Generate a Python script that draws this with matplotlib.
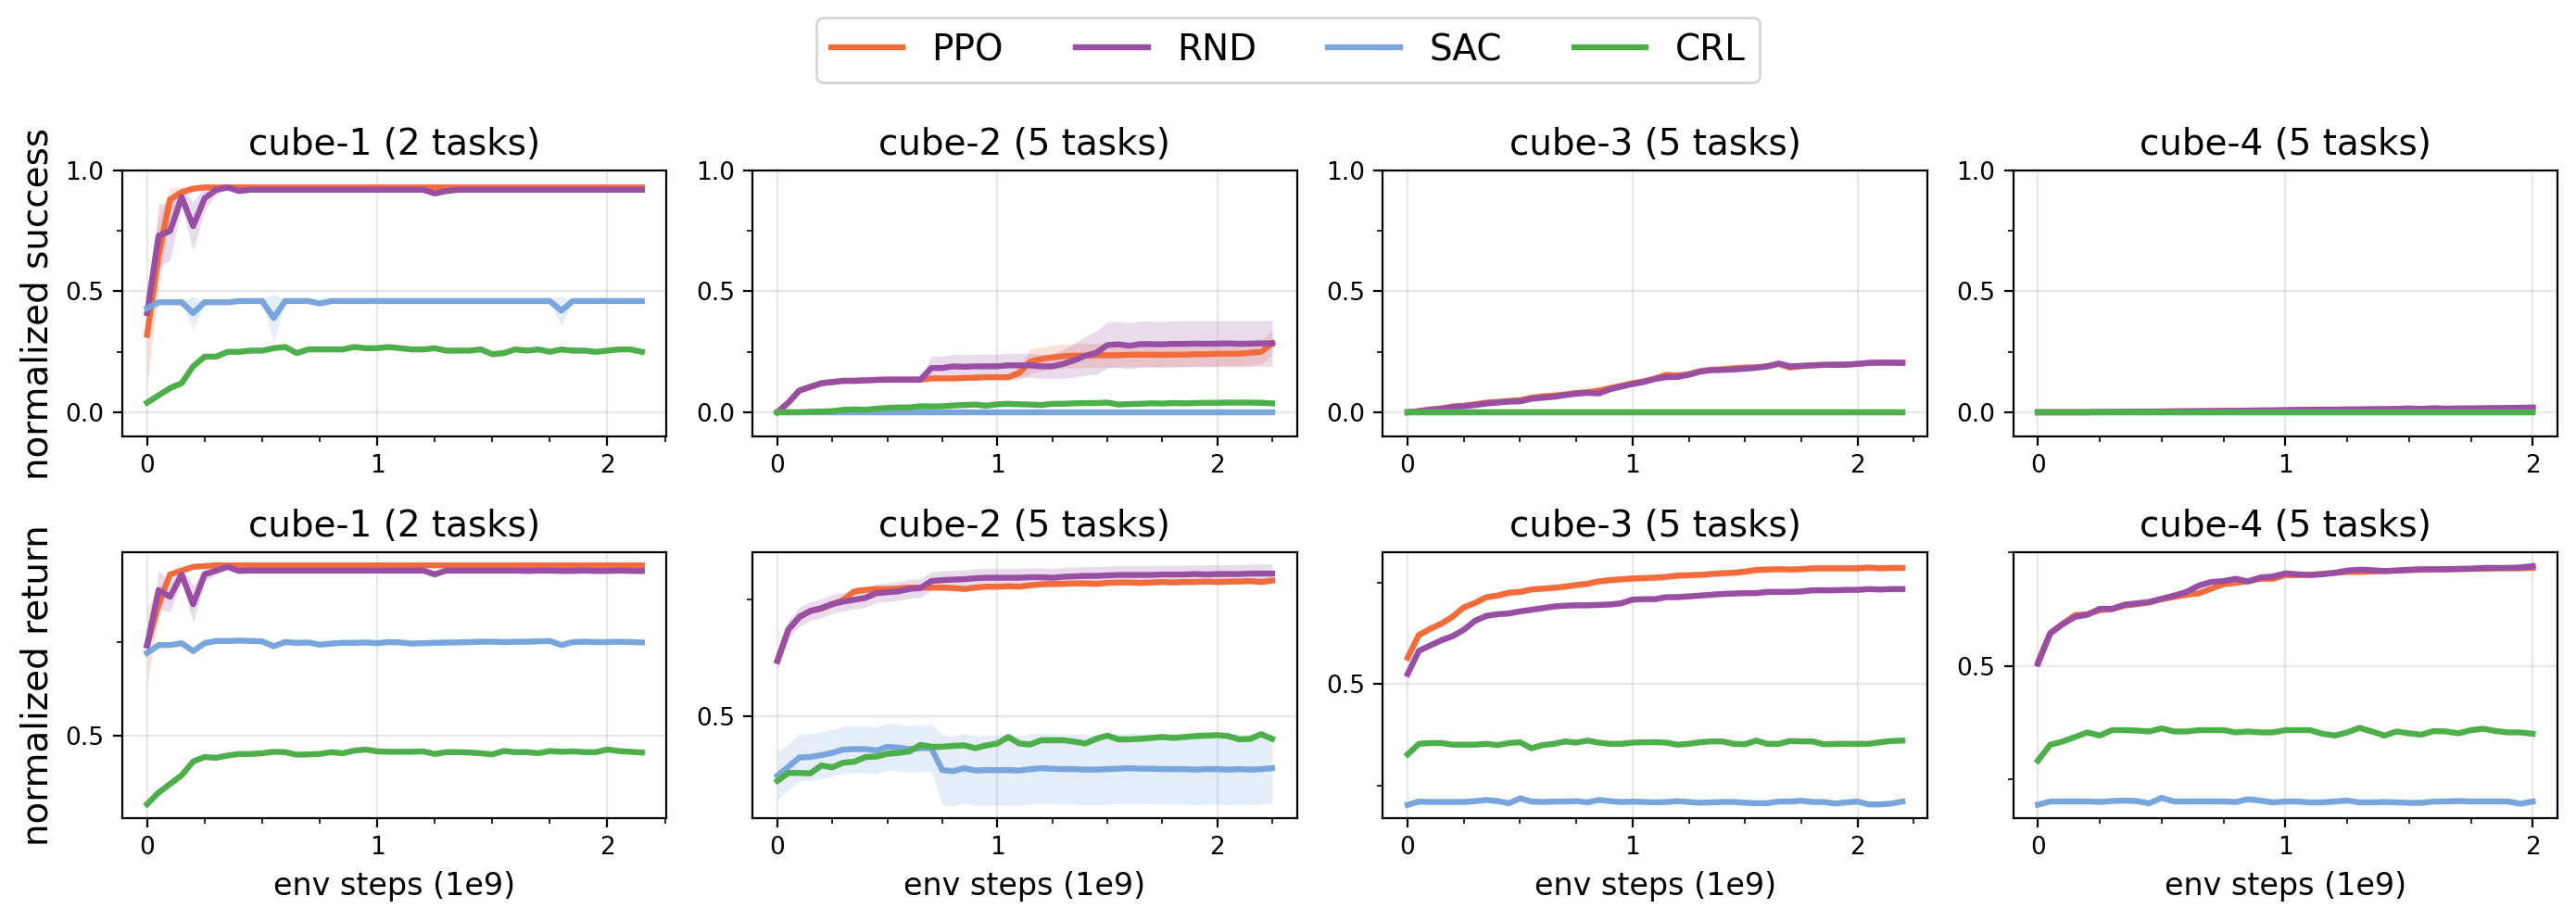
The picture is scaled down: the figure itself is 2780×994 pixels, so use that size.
import numpy as np
import matplotlib
matplotlib.use('Agg')
import matplotlib.pyplot as plt
from matplotlib.ticker import MultipleLocator

# evaluation interval along the x axis (1e9 env steps)
EVAL_INTERVAL = 0.05

methods = ['PPO', 'RND', 'SAC', 'CRL']
colors = {'PPO': '#f26b3a', 'RND': '#984ea3', 'SAC': '#78a6dc', 'CRL': '#4daf4a'}
envs = ['cube-1 (2 tasks)', 'cube-2 (5 tasks)', 'cube-3 (5 tasks)', 'cube-4 (5 tasks)']

# ---------------- cube-1 ----------------
ppo_s1 = [0.32, 0.65, 0.88, 0.91, 0.925, 0.93, 0.93, 0.93, 0.93, 0.93,
          0.93, 0.93, 0.93, 0.93, 0.93, 0.93, 0.93, 0.93, 0.93, 0.93,
          0.93, 0.93, 0.93, 0.93, 0.93, 0.93, 0.93, 0.93, 0.93, 0.93,
          0.93, 0.93, 0.93, 0.93, 0.93, 0.93, 0.93, 0.93, 0.93, 0.93,
          0.93, 0.93, 0.93, 0.93]
ppo_s1_std = [0.2, 0.15, 0.05, 0.02, 0.01, 0.005, 0.004, 0.003, 0.003, 0.003,
              0.003, 0.003, 0.003, 0.003, 0.003, 0.003, 0.003, 0.003, 0.003, 0.003,
              0.003, 0.003, 0.003, 0.003, 0.003, 0.003, 0.003, 0.003, 0.003, 0.003,
              0.003, 0.003, 0.003, 0.003, 0.003, 0.003, 0.003, 0.003, 0.003, 0.003,
              0.003, 0.003, 0.003, 0.003]
rnd_s1 = [0.41, 0.73, 0.75, 0.89, 0.77, 0.885, 0.92, 0.93, 0.915, 0.92,
          0.92, 0.92, 0.92, 0.92, 0.92, 0.92, 0.92, 0.92, 0.92, 0.92,
          0.92, 0.92, 0.92, 0.92, 0.92, 0.905, 0.915, 0.92, 0.92, 0.92,
          0.92, 0.92, 0.92, 0.92, 0.92, 0.92, 0.92, 0.92, 0.92, 0.92,
          0.92, 0.92, 0.92, 0.92]
rnd_s1_std = [0.02, 0.13, 0.12, 0.04, 0.1, 0.05, 0.02, 0.01, 0.005, 0.004,
              0.004, 0.004, 0.004, 0.004, 0.004, 0.004, 0.004, 0.004, 0.004, 0.004,
              0.004, 0.004, 0.004, 0.004, 0.004, 0.012, 0.004, 0.004, 0.004, 0.004,
              0.004, 0.004, 0.004, 0.004, 0.004, 0.004, 0.004, 0.004, 0.004, 0.004,
              0.004, 0.004, 0.004, 0.004]
sac_s1 = [0.43, 0.455, 0.455, 0.455, 0.41, 0.455, 0.455, 0.455, 0.46, 0.46,
          0.46, 0.39, 0.46, 0.46, 0.46, 0.45, 0.46, 0.46, 0.46, 0.46,
          0.46, 0.46, 0.46, 0.46, 0.46, 0.46, 0.46, 0.46, 0.46, 0.46,
          0.46, 0.46, 0.46, 0.46, 0.46, 0.46, 0.42, 0.46, 0.46, 0.46,
          0.46, 0.46, 0.46, 0.46]
sac_s1_std = [0.01, 0.004, 0.004, 0.004, 0.07, 0.004, 0.004, 0.004, 0.004, 0.004,
              0.004, 0.1, 0.004, 0.004, 0.004, 0.01, 0.004, 0.004, 0.004, 0.004,
              0.004, 0.004, 0.004, 0.004, 0.004, 0.004, 0.004, 0.004, 0.004, 0.004,
              0.004, 0.004, 0.004, 0.004, 0.004, 0.004, 0.06, 0.004, 0.004, 0.004,
              0.004, 0.004, 0.004, 0.004]
crl_s1 = [0.04, 0.07, 0.10, 0.12, 0.19, 0.23, 0.23, 0.25, 0.25, 0.255,
          0.255, 0.265, 0.27, 0.245, 0.26, 0.26, 0.26, 0.26, 0.27, 0.265,
          0.265, 0.27, 0.265, 0.26, 0.26, 0.265, 0.255, 0.255, 0.255, 0.26,
          0.24, 0.245, 0.26, 0.255, 0.26, 0.25, 0.26, 0.255, 0.255, 0.25,
          0.255, 0.26, 0.26, 0.25]

ppo_r1 = [0.74, 0.85, 0.93, 0.94, 0.95, 0.952, 0.954, 0.954, 0.954, 0.954,
          0.954, 0.954, 0.954, 0.954, 0.954, 0.954, 0.954, 0.954, 0.954, 0.954,
          0.954, 0.954, 0.954, 0.954, 0.954, 0.954, 0.954, 0.954, 0.954, 0.954,
          0.954, 0.954, 0.954, 0.954, 0.954, 0.954, 0.954, 0.954, 0.954, 0.954,
          0.954, 0.954, 0.954, 0.954]
ppo_r1_std = [0.1, 0.04, 0.01, 0.005, 0.004, 0.003, 0.003, 0.003, 0.003, 0.003,
              0.003, 0.003, 0.003, 0.003, 0.003, 0.003, 0.003, 0.003, 0.003, 0.003,
              0.003, 0.003, 0.003, 0.003, 0.003, 0.003, 0.003, 0.003, 0.003, 0.003,
              0.003, 0.003, 0.003, 0.003, 0.003, 0.003, 0.003, 0.003, 0.003, 0.003,
              0.003, 0.003, 0.003, 0.003]
rnd_r1 = [0.74, 0.888, 0.87, 0.93, 0.85, 0.93, 0.94, 0.95, 0.939, 0.94,
          0.94, 0.94, 0.94, 0.94, 0.94, 0.94, 0.94, 0.94, 0.94, 0.94,
          0.94, 0.94, 0.94, 0.94, 0.94, 0.93, 0.94, 0.94, 0.94, 0.94,
          0.94, 0.94, 0.94, 0.939, 0.94, 0.94, 0.939, 0.939, 0.94, 0.939,
          0.939, 0.94, 0.939, 0.939]
rnd_r1_std = [0.02, 0.05, 0.04, 0.02, 0.05, 0.02, 0.01, 0.005, 0.004, 0.004,
              0.004, 0.004, 0.004, 0.004, 0.004, 0.004, 0.004, 0.004, 0.004, 0.004,
              0.004, 0.004, 0.004, 0.004, 0.004, 0.008, 0.004, 0.004, 0.004, 0.004,
              0.004, 0.004, 0.004, 0.004, 0.004, 0.004, 0.004, 0.004, 0.004, 0.004,
              0.004, 0.004, 0.004, 0.004]
sac_r1 = [0.72, 0.741, 0.741, 0.746, 0.725, 0.746, 0.752, 0.752, 0.753, 0.752,
          0.751, 0.738, 0.749, 0.747, 0.748, 0.742, 0.745, 0.747, 0.747, 0.748,
          0.746, 0.749, 0.748, 0.745, 0.746, 0.747, 0.748, 0.748, 0.749, 0.75,
          0.75, 0.749, 0.75, 0.75, 0.751, 0.752, 0.741, 0.749, 0.75, 0.749,
          0.749, 0.75, 0.749, 0.748]
crl_r1 = [0.316, 0.347, 0.37, 0.393, 0.43, 0.442, 0.44, 0.446, 0.45, 0.45,
          0.452, 0.456, 0.455, 0.448, 0.449, 0.45, 0.455, 0.452, 0.459, 0.462,
          0.457, 0.456, 0.456, 0.456, 0.457, 0.45, 0.455, 0.455, 0.454, 0.452,
          0.449, 0.458, 0.455, 0.455, 0.452, 0.458, 0.456, 0.457, 0.455, 0.455,
          0.462, 0.458, 0.456, 0.454]

# ---------------- cube-2 ----------------
ppo_s2 = [0.0, 0.04, 0.09, 0.105, 0.12, 0.125, 0.13, 0.13, 0.132, 0.134,
          0.135, 0.135, 0.135, 0.135, 0.14, 0.14, 0.14, 0.142, 0.143, 0.145,
          0.145, 0.145, 0.163, 0.21, 0.22, 0.227, 0.232, 0.234, 0.234, 0.236,
          0.236, 0.236, 0.238, 0.238, 0.238, 0.237, 0.238, 0.238, 0.24, 0.24,
          0.242, 0.242, 0.242, 0.246, 0.25, 0.285]
ppo_s2_std = [0.002, 0.004, 0.005, 0.005, 0.005, 0.005, 0.005, 0.005, 0.005, 0.005,
              0.005, 0.005, 0.005, 0.005, 0.01, 0.01, 0.01, 0.01, 0.01, 0.01,
              0.01, 0.01, 0.03, 0.05, 0.05, 0.05, 0.05, 0.05, 0.05, 0.05,
              0.05, 0.05, 0.05, 0.05, 0.05, 0.05, 0.05, 0.05, 0.05, 0.05,
              0.05, 0.05, 0.05, 0.05, 0.05, 0.05]
rnd_s2 = [0.0, 0.04, 0.09, 0.105, 0.12, 0.125, 0.13, 0.13, 0.132, 0.134,
          0.135, 0.135, 0.135, 0.135, 0.183, 0.183, 0.19, 0.188, 0.19, 0.19,
          0.19, 0.194, 0.194, 0.194, 0.19, 0.19, 0.2, 0.215, 0.234, 0.246,
          0.278, 0.281, 0.275, 0.282, 0.282, 0.281, 0.283, 0.283, 0.284, 0.283,
          0.284, 0.285, 0.283, 0.284, 0.285, 0.285]
rnd_s2_std = [0.002, 0.004, 0.005, 0.005, 0.005, 0.005, 0.005, 0.005, 0.005, 0.005,
              0.005, 0.005, 0.005, 0.005, 0.05, 0.05, 0.05, 0.05, 0.05, 0.05,
              0.05, 0.05, 0.05, 0.05, 0.05, 0.05, 0.06, 0.07, 0.08, 0.09,
              0.095, 0.095, 0.095, 0.095, 0.095, 0.095, 0.095, 0.095, 0.095, 0.095,
              0.095, 0.095, 0.095, 0.095, 0.095, 0.095]
sac_s2 = [0.0, 0.0, 0.0, 0.0, 0.0, 0.0, 0.0, 0.0, 0.0, 0.0,
          0.0, 0.0, 0.0, 0.0, 0.0, 0.0, 0.0, 0.0, 0.0, 0.0,
          0.0, 0.0, 0.0, 0.0, 0.0, 0.0, 0.0, 0.0, 0.0, 0.0,
          0.0, 0.0, 0.0, 0.0, 0.0, 0.0, 0.0, 0.0, 0.0, 0.0,
          0.0, 0.0, 0.0, 0.0, 0.0, 0.0]
crl_s2 = [0.0, 0.0, 0.0, 0.002, 0.003, 0.005, 0.01, 0.012, 0.01, 0.015,
          0.018, 0.02, 0.02, 0.025, 0.024, 0.025, 0.028, 0.03, 0.032, 0.027,
          0.033, 0.035, 0.033, 0.032, 0.03, 0.035, 0.035, 0.037, 0.038, 0.038,
          0.04, 0.032, 0.034, 0.035, 0.037, 0.036, 0.038, 0.037, 0.038, 0.039,
          0.039, 0.04, 0.04, 0.04, 0.039, 0.037]

ppo_r2 = [0.618, 0.685, 0.712, 0.725, 0.73, 0.739, 0.749, 0.767, 0.77, 0.772,
          0.772, 0.773, 0.775, 0.775, 0.775, 0.775, 0.774, 0.772, 0.775, 0.777,
          0.777, 0.778, 0.777, 0.78, 0.782, 0.783, 0.783, 0.784, 0.784, 0.783,
          0.785, 0.786, 0.786, 0.785, 0.786, 0.787, 0.786, 0.787, 0.787, 0.788,
          0.787, 0.788, 0.788, 0.789, 0.787, 0.79]
rnd_r2 = [0.618, 0.685, 0.712, 0.725, 0.731, 0.74, 0.745, 0.749, 0.753, 0.763,
          0.765, 0.767, 0.772, 0.774, 0.789, 0.791, 0.792, 0.793, 0.795, 0.796,
          0.796, 0.796, 0.796, 0.797, 0.797, 0.796, 0.798, 0.799, 0.8, 0.8,
          0.801, 0.802, 0.802, 0.802, 0.802, 0.803, 0.803, 0.803, 0.804, 0.803,
          0.804, 0.804, 0.804, 0.805, 0.805, 0.805]
sac_r2 = [0.372, 0.391, 0.411, 0.412, 0.416, 0.421, 0.428, 0.429, 0.429, 0.426,
          0.434, 0.432, 0.429, 0.431, 0.431, 0.384, 0.382, 0.388, 0.383, 0.384,
          0.384, 0.384, 0.383, 0.386, 0.388, 0.387, 0.386, 0.386, 0.385, 0.385,
          0.386, 0.387, 0.388, 0.387, 0.387, 0.386, 0.386, 0.386, 0.385, 0.386,
          0.386, 0.385, 0.386, 0.385, 0.386, 0.388]
sac_r2_std = [0.05, 0.05, 0.05, 0.05, 0.05, 0.05, 0.05, 0.05, 0.05, 0.05,
              0.05, 0.05, 0.05, 0.05, 0.05, 0.075, 0.075, 0.075, 0.075, 0.075,
              0.075, 0.075, 0.075, 0.075, 0.075, 0.075, 0.075, 0.075, 0.075, 0.075,
              0.075, 0.075, 0.075, 0.075, 0.075, 0.075, 0.075, 0.075, 0.075, 0.075,
              0.075, 0.075, 0.075, 0.075, 0.075, 0.075]
crl_r2 = [0.361, 0.378, 0.378, 0.377, 0.394, 0.39, 0.4, 0.402, 0.412, 0.413,
          0.419, 0.421, 0.424, 0.438, 0.434, 0.434, 0.436, 0.437, 0.431, 0.437,
          0.441, 0.455, 0.441, 0.439, 0.448, 0.448, 0.448, 0.445, 0.441, 0.451,
          0.458, 0.45, 0.45, 0.451, 0.453, 0.455, 0.453, 0.455, 0.457, 0.458,
          0.459, 0.457, 0.45, 0.451, 0.461, 0.451]

# ---------------- cube-3 ----------------
ppo_s3 = [0.0, 0.005, 0.012, 0.016, 0.024, 0.027, 0.033, 0.04, 0.043, 0.047,
          0.05, 0.06, 0.066, 0.069, 0.074, 0.08, 0.083, 0.09, 0.1, 0.11,
          0.12, 0.128, 0.14, 0.155, 0.152, 0.158, 0.17, 0.176, 0.178, 0.182,
          0.185, 0.186, 0.19, 0.2, 0.185, 0.19, 0.194, 0.196, 0.196, 0.197,
          0.2, 0.204, 0.206, 0.206, 0.205]
rnd_s3 = [0.0, 0.004, 0.01, 0.014, 0.022, 0.025, 0.03, 0.036, 0.04, 0.044,
          0.045, 0.056, 0.06, 0.064, 0.071, 0.077, 0.08, 0.078, 0.095, 0.106,
          0.117, 0.125, 0.138, 0.145, 0.146, 0.155, 0.168, 0.174, 0.175, 0.177,
          0.18, 0.184, 0.19, 0.202, 0.19, 0.192, 0.194, 0.196, 0.197, 0.197,
          0.2, 0.204, 0.205, 0.205, 0.204]
sac_s3 = [0.0, 0.0, 0.0, 0.0, 0.0, 0.0, 0.0, 0.0, 0.0, 0.0,
          0.0, 0.0, 0.0, 0.0, 0.0, 0.0, 0.0, 0.0, 0.0, 0.0,
          0.0, 0.0, 0.0, 0.0, 0.0, 0.0, 0.0, 0.0, 0.0, 0.0,
          0.0, 0.0, 0.0, 0.0, 0.0, 0.0, 0.0, 0.0, 0.0, 0.0,
          0.0, 0.0, 0.0, 0.0, 0.0]
crl_s3 = [0.0, 0.0, 0.0, 0.0, 0.0, 0.0, 0.0, 0.0, 0.0, 0.0,
          0.0, 0.0, 0.0, 0.0, 0.0, 0.0, 0.0, 0.0, 0.0, 0.0,
          0.0, 0.0, 0.0, 0.0, 0.0, 0.0, 0.0, 0.0, 0.0, 0.0,
          0.0, 0.0, 0.0, 0.0, 0.0, 0.0, 0.0, 0.0, 0.0, 0.0,
          0.0, 0.0, 0.0, 0.0, 0.0]

ppo_r3 = [0.565, 0.621, 0.636, 0.649, 0.666, 0.689, 0.70, 0.714, 0.718, 0.725,
          0.727, 0.733, 0.735, 0.737, 0.74, 0.744, 0.747, 0.753, 0.756, 0.758,
          0.76, 0.761, 0.762, 0.764, 0.767, 0.768, 0.769, 0.771, 0.773, 0.774,
          0.777, 0.781, 0.782, 0.783, 0.782, 0.783, 0.785, 0.785, 0.785, 0.785,
          0.785, 0.787, 0.785, 0.786, 0.786]
rnd_r3 = [0.525, 0.582, 0.595, 0.608, 0.618, 0.634, 0.656, 0.668, 0.672, 0.674,
          0.679, 0.683, 0.687, 0.691, 0.693, 0.694, 0.694, 0.695, 0.696, 0.699,
          0.708, 0.709, 0.709, 0.714, 0.714, 0.716, 0.718, 0.72, 0.722, 0.723,
          0.724, 0.724, 0.727, 0.727, 0.727, 0.728, 0.731, 0.731, 0.731, 0.732,
          0.732, 0.734, 0.733, 0.734, 0.734]
sac_r3 = [0.203, 0.211, 0.21, 0.21, 0.21, 0.21, 0.212, 0.215, 0.212, 0.207,
          0.219, 0.211, 0.21, 0.211, 0.211, 0.212, 0.209, 0.215, 0.212, 0.21,
          0.211, 0.21, 0.209, 0.21, 0.212, 0.21, 0.208, 0.209, 0.21, 0.21,
          0.208, 0.207, 0.207, 0.211, 0.211, 0.213, 0.21, 0.21, 0.206, 0.209,
          0.211, 0.204, 0.204, 0.206, 0.211]
crl_r3 = [0.327, 0.353, 0.355, 0.355, 0.351, 0.351, 0.351, 0.353, 0.35, 0.355,
          0.357, 0.342, 0.35, 0.353, 0.359, 0.356, 0.361, 0.356, 0.353, 0.353,
          0.356, 0.357, 0.357, 0.356, 0.351, 0.353, 0.357, 0.359, 0.359, 0.353,
          0.352, 0.361, 0.353, 0.353, 0.36, 0.359, 0.359, 0.352, 0.353, 0.353,
          0.353, 0.353, 0.357, 0.36, 0.361]

# ---------------- cube-4 ----------------
ppo_s4 = [0.0, 0.0, 0.0, 0.0, 0.0, 0.001, 0.001, 0.002, 0.002, 0.003,
          0.003, 0.004, 0.004, 0.004, 0.005, 0.005, 0.006, 0.006, 0.007, 0.007,
          0.008, 0.009, 0.009, 0.01, 0.01, 0.011, 0.011, 0.012, 0.012, 0.013,
          0.013, 0.013, 0.014, 0.014, 0.015, 0.015, 0.015, 0.016, 0.016, 0.017,
          0.017]
rnd_s4 = [0.0, 0.0, 0.0, 0.0, 0.0, 0.001, 0.001, 0.002, 0.002, 0.003,
          0.003, 0.004, 0.004, 0.005, 0.005, 0.006, 0.006, 0.007, 0.008, 0.008,
          0.009, 0.01, 0.01, 0.011, 0.011, 0.012, 0.012, 0.013, 0.013, 0.014,
          0.016, 0.014, 0.017, 0.015, 0.016, 0.016, 0.017, 0.017, 0.018, 0.019,
          0.02]
sac_s4 = [0.0, 0.0, 0.0, 0.0, 0.0, 0.0, 0.0, 0.0, 0.0, 0.0,
          0.0, 0.0, 0.0, 0.0, 0.0, 0.0, 0.0, 0.0, 0.0, 0.0,
          0.0, 0.0, 0.0, 0.0, 0.0, 0.0, 0.0, 0.0, 0.0, 0.0,
          0.0, 0.0, 0.0, 0.0, 0.0, 0.0, 0.0, 0.0, 0.0, 0.0,
          0.0]
crl_s4 = [0.0, 0.0, 0.0, 0.0, 0.0, 0.0, 0.0, 0.0, 0.0, 0.0,
          0.0, 0.0, 0.0, 0.0, 0.0, 0.0, 0.0, 0.0, 0.0, 0.0,
          0.0, 0.0, 0.0, 0.0, 0.0, 0.0, 0.0, 0.0, 0.0, 0.0,
          0.0, 0.0, 0.0, 0.0, 0.0, 0.0, 0.0, 0.0, 0.0, 0.0,
          0.0]

ppo_r4 = [0.509, 0.573, 0.593, 0.612, 0.614, 0.623, 0.625, 0.633, 0.636, 0.64,
          0.647, 0.652, 0.657, 0.66, 0.67, 0.68, 0.683, 0.687, 0.692, 0.692,
          0.70, 0.70, 0.701, 0.703, 0.705, 0.707, 0.707, 0.708, 0.709, 0.71,
          0.711, 0.712, 0.712, 0.713, 0.713, 0.714, 0.714, 0.715, 0.715, 0.715,
          0.716]
rnd_r4 = [0.505, 0.572, 0.592, 0.608, 0.613, 0.626, 0.626, 0.635, 0.638, 0.641,
          0.648, 0.655, 0.663, 0.677, 0.685, 0.687, 0.692, 0.686, 0.695, 0.697,
          0.704, 0.702, 0.70, 0.702, 0.705, 0.71, 0.712, 0.711, 0.709, 0.71,
          0.712, 0.713, 0.713, 0.713, 0.714, 0.714, 0.716, 0.716, 0.716, 0.717,
          0.72]
sac_r4 = [0.195, 0.202, 0.202, 0.202, 0.202, 0.201, 0.203, 0.204, 0.203, 0.198,
          0.21, 0.202, 0.202, 0.202, 0.202, 0.202, 0.201, 0.207, 0.204, 0.2,
          0.202, 0.202, 0.2, 0.2, 0.202, 0.204, 0.2, 0.2, 0.201, 0.2,
          0.199, 0.199, 0.202, 0.202, 0.203, 0.202, 0.202, 0.202, 0.202, 0.197,
          0.202]
crl_r4 = [0.292, 0.327, 0.334, 0.344, 0.354, 0.347, 0.359, 0.359, 0.358, 0.356,
          0.363, 0.356, 0.356, 0.359, 0.359, 0.359, 0.354, 0.356, 0.354, 0.354,
          0.359, 0.359, 0.359, 0.351, 0.347, 0.354, 0.364, 0.356, 0.347, 0.356,
          0.352, 0.349, 0.357, 0.356, 0.352, 0.359, 0.362, 0.357, 0.354, 0.354,
          0.351]

# (mean, std) per env and method; a scalar std means a thin band
success = [
    {'PPO': (ppo_s1, ppo_s1_std), 'RND': (rnd_s1, rnd_s1_std),
     'SAC': (sac_s1, sac_s1_std), 'CRL': (crl_s1, 0.01)},
    {'PPO': (ppo_s2, ppo_s2_std), 'RND': (rnd_s2, rnd_s2_std),
     'SAC': (sac_s2, 0.0), 'CRL': (crl_s2, 0.003)},
    {'PPO': (ppo_s3, 0.004), 'RND': (rnd_s3, 0.003),
     'SAC': (sac_s3, 0.0), 'CRL': (crl_s3, 0.0)},
    {'PPO': (ppo_s4, 0.002), 'RND': (rnd_s4, 0.003),
     'SAC': (sac_s4, 0.0), 'CRL': (crl_s4, 0.0)},
]
returns = [
    {'PPO': (ppo_r1, ppo_r1_std), 'RND': (rnd_r1, rnd_r1_std),
     'SAC': (sac_r1, 0.005), 'CRL': (crl_r1, 0.005)},
    {'PPO': (ppo_r2, 0.006), 'RND': (rnd_r2, 0.02),
     'SAC': (sac_r2, sac_r2_std), 'CRL': (crl_r2, 0.006)},
    {'PPO': (ppo_r3, 0.008), 'RND': (rnd_r3, 0.007),
     'SAC': (sac_r3, 0.003), 'CRL': (crl_r3, 0.005)},
    {'PPO': (ppo_r4, 0.005), 'RND': (rnd_r4, 0.004),
     'SAC': (sac_r4, 0.003), 'CRL': (crl_r4, 0.004)},
]

fig, axes = plt.subplots(2, 4, figsize=(13.9, 4.97), dpi=200)
fig.subplots_adjust(left=0.0475, right=0.9928, top=0.8149, bottom=0.1117,
                    wspace=0.158, hspace=0.435)

for row, (data, label) in enumerate([(success, 'normalized success'),
                                     (returns, 'normalized return')]):
    for col in range(4):
        ax = axes[row, col]
        for m in methods:
            mean, std = data[col][m]
            mean = np.array(mean)
            std = np.array(std) if np.ndim(std) else np.full(len(mean), std)
            steps = np.arange(len(mean)) * EVAL_INTERVAL
            ax.fill_between(steps, mean - std, mean + std, color=colors[m],
                            alpha=0.2, linewidth=0)
            ax.plot(steps, mean, color=colors[m], lw=2.3, label=m)
        ax.set_title(envs[col], fontsize=14)
        ax.xaxis.set_major_locator(MultipleLocator(1))
        ax.xaxis.set_minor_locator(MultipleLocator(0.25))
        ax.yaxis.set_major_locator(MultipleLocator(0.5))
        ax.yaxis.set_minor_locator(MultipleLocator(0.25))
        ax.tick_params(labelsize=9.5)
        ax.grid(True, which='major', alpha=0.3)
        if row == 0:
            ax.set_ylim(-0.1, 1.0)
        else:
            ax.set_xlabel('env steps (1e9)', fontsize=12)
        if col == 0:
            ax.set_ylabel(label, fontsize=14)

handles, labels = axes[0, 0].get_legend_handles_labels()
fig.legend(handles, labels, loc='upper center', ncol=4, fontsize=14,
           bbox_to_anchor=(0.5, 1.0))

plt.savefig('out.png', dpi=200)
